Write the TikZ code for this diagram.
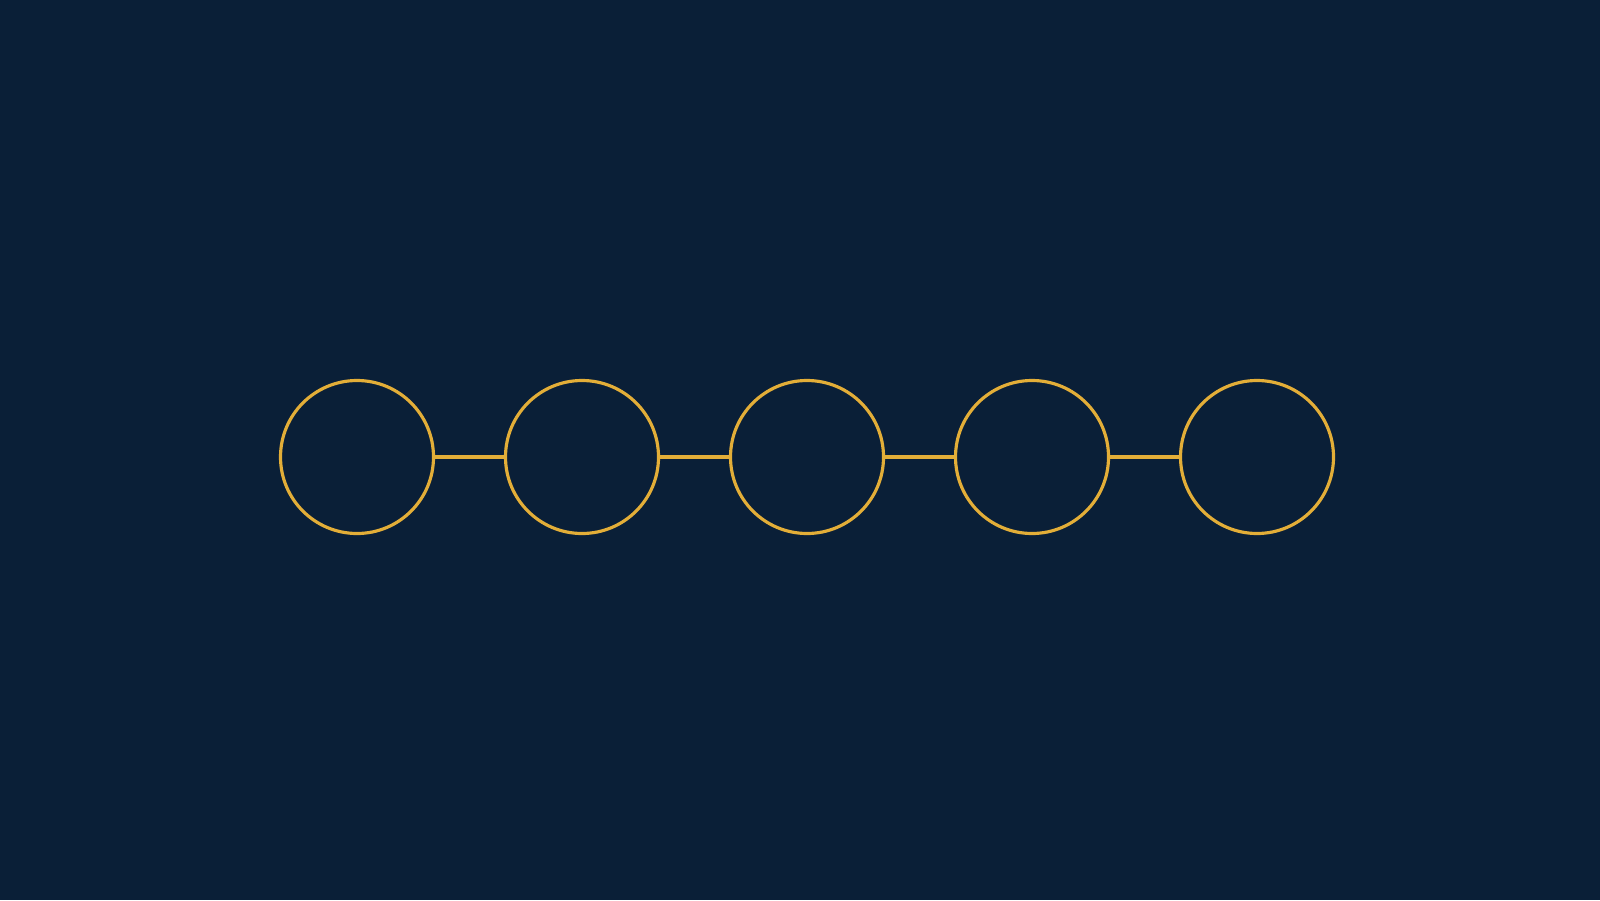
\documentclass[tikz,border=0pt]{standalone}
\usepackage{tikz}
\usetikzlibrary{positioning}
\definecolor{navybg}{HTML}{0A1F37}
\definecolor{goldline}{HTML}{E3AE38}
\tikzset{
    ring/.style={circle, minimum size=1.53cm, inner sep=0pt, draw=goldline, line width=0.9pt},
    link/.style={draw=goldline, line width=0.9pt}
}

\begin{document}
\begin{tikzpicture}[node distance=2.25cm]
    \fill[navybg] (0,0) rectangle (16,9);
    \useasboundingbox (0,0) rectangle (16,9);

    \node (c1) [ring] at (3.57,4.43) {};
    \node (c2) [ring, right of=c1] {};
    \node (c3) [ring, right of=c2] {};
    \node (c4) [ring, right of=c3] {};
    \node (c5) [ring, right of=c4] {};

    \draw [link] (c1) -- (c2);
    \draw [link] (c2) -- (c3);
    \draw [link] (c3) -- (c4);
    \draw [link] (c4) -- (c5);

\end{tikzpicture}
\end{document}
